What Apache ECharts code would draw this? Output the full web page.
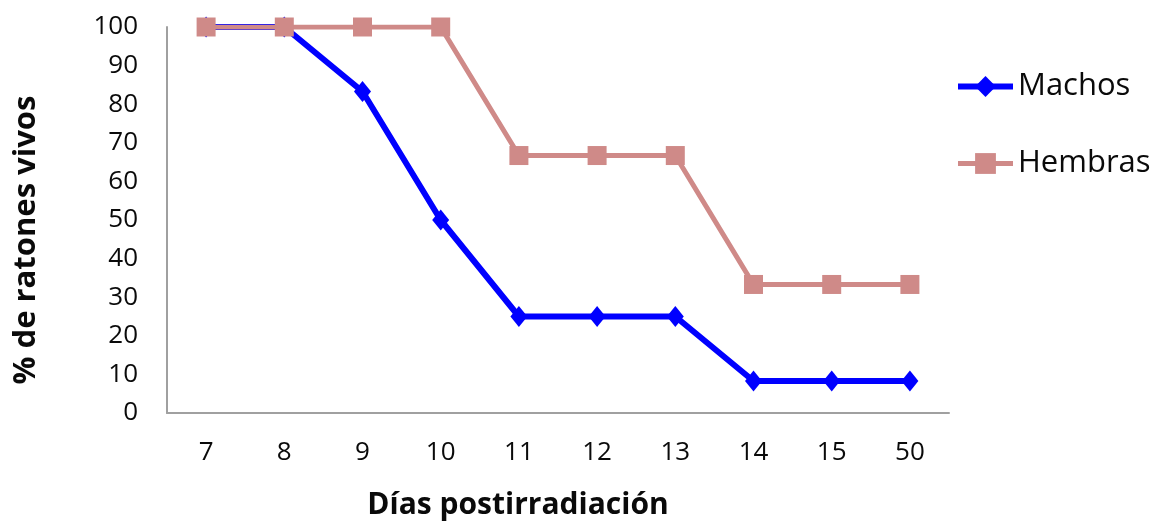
<!DOCTYPE html>
<html>
<head>
<meta charset="utf-8">
<script src="https://cdn.jsdelivr.net/npm/echarts@6/dist/echarts.min.js"></script>
<style>
  html, body { margin: 0; padding: 0; background: #fff; }
  #chart { width: 1154px; height: 522px; }
</style>
</head>
<body>
<div id="chart"></div>
<script>
// Survival of irradiated mice by sex
const dias = ['7', '8', '9', '10', '11', '12', '13', '14', '15', '50'];
const machos = [100, 100, 83.3, 50, 25, 25, 25, 8.3, 8.3, 8.3];
const hembras = [100, 100, 100, 100, 66.7, 66.7, 66.7, 33.3, 33.3, 33.3];
const yTicks = { min: 0, max: 100, interval: 10 };

const FONT = '"Open Sans", "Noto Sans", sans-serif';
const TEXT = '#0a0a0a';
const AXIS = '#a0a0a0';
const BLUE = '#0000ff';
const ROSE = '#cf8a88';

const chart = echarts.init(document.getElementById('chart'), null, { renderer: 'canvas' });

chart.setOption({
  backgroundColor: '#ffffff',
  animation: false,
  grid: { left: 167, right: 205, top: 27, bottom: 109, containLabel: false },
  legend: {
    orient: 'vertical',
    left: 950,
    top: 66,
    itemWidth: 55,
    itemHeight: 26,
    itemGap: 46,
    textStyle: { fontFamily: FONT, fontSize: 31, color: TEXT },
    data: [
      { name: 'Machos', lineStyle: { width: 6, color: BLUE } },
      { name: 'Hembras', lineStyle: { width: 5, color: ROSE } }
    ]
  },
  xAxis: {
    type: 'category',
    data: dias,
    boundaryGap: true,
    axisLine: { lineStyle: { color: AXIS, width: 2 } },
    axisTick: { show: false },
    axisLabel: { interval: 0, margin: 27, fontFamily: FONT, fontSize: 26, color: TEXT },
    splitLine: { show: false }
  },
  yAxis: {
    type: 'value',
    min: yTicks.min,
    max: yTicks.max,
    interval: yTicks.interval,
    axisLine: { show: true, lineStyle: { color: AXIS, width: 2 } },
    axisTick: { show: false },
    axisLabel: { margin: 29, fontFamily: FONT, fontSize: 26, color: TEXT },
    splitLine: { show: false }
  },
  graphic: [
    {
      type: 'text',
      x: 518,
      y: 505,
      style: {
        text: 'Días postirradiación',
        font: 'bold 30px ' + FONT,
        fill: TEXT,
        align: 'center',
        verticalAlign: 'middle'
      }
    },
    {
      type: 'text',
      x: 26,
      y: 240,
      rotation: Math.PI / 2,
      style: {
        text: '% de ratones vivos',
        font: 'bold 31px ' + FONT,
        fill: TEXT,
        align: 'center',
        verticalAlign: 'middle'
      }
    }
  ],
  series: [
    {
      name: 'Machos',
      type: 'line',
      data: machos,
      symbol: 'diamond',
      symbolSize: [17, 21],
      lineStyle: { color: BLUE, width: 6 },
      itemStyle: { color: BLUE },
      z: 2
    },
    {
      name: 'Hembras',
      type: 'line',
      data: hembras,
      symbol: 'rect',
      symbolSize: 19,
      lineStyle: { color: ROSE, width: 5 },
      itemStyle: { color: ROSE },
      z: 3
    }
  ]
});
</script>
</body>
</html>
